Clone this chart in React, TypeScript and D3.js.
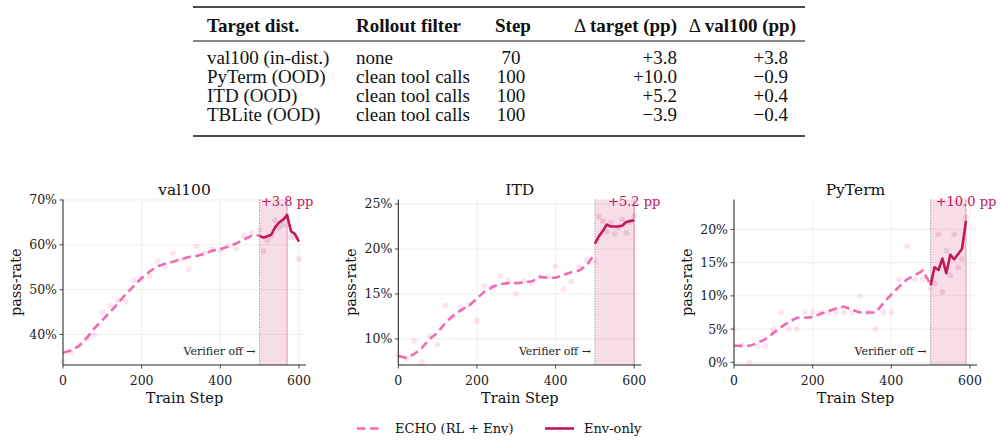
import React from "react";
import * as d3 from "d3";

// Summary table
const tableHeaders = ["Target dist.", "Rollout filter", "Step", "target (pp)", "val100 (pp)"];
const targetDists = ["val100 (in-dist.)", "PyTerm (OOD)", "ITD (OOD)", "TBLite (OOD)"];
const rolloutFilters = ["none", "clean tool calls", "clean tool calls", "clean tool calls"];
const bestSteps = ["70", "100", "100", "100"];
const deltaTarget = ["+3.8", "+10.0", "+5.2", "\u22123.9"];
const deltaVal100 = ["+3.8", "\u22120.9", "+0.4", "\u22120.4"];

// ECHO run (RL + Env), logged every 20 steps up to the verifier switch-off
const echoSteps = [0, 20, 40, 60, 80, 100, 120, 140, 160, 180, 200, 220, 240, 260, 280, 300, 320, 340, 360, 380, 400, 420, 440, 460, 480, 500];
// Env-only continuation after step 500
const envSteps = [500, 510, 520, 530, 540, 550, 560, 570, 580, 590, 600];
const envRawSteps = [510, 520, 530, 540, 550, 560, 570, 580, 590, 600];

// val100
const val100Echo = [35.9, 36.5, 37.4, 39.2, 41.4, 43.2, 45.0, 47.0, 49.0, 50.8, 52.6, 54.0, 55.2, 55.8, 56.2, 56.8, 57.3, 57.5, 58.0, 58.7, 59.0, 59.6, 60.3, 61.2, 62.0, 62.1];
const val100EchoRaw = [33.9, 36.1, 37.5, 39.0, 39.9, 44.9, 46.4, 47.6, 47.4, 52.1, 52.4, 53.0, 56.3, 55.1, 58.1, 56.6, 54.6, 59.7, 58.2, 59.0, 58.8, 59.9, 59.2, 62.1, 62.7, 63.4];
const val100Env = [62.0, 61.6, 61.9, 62.3, 64.0, 65.0, 65.6, 66.6, 63.0, 62.4, 60.7];
const val100EnvRaw = [58.6, 61.0, 62.0, 65.5, 63.8, 64.4, 66.4, 61.8, 61.6, 56.8];

// ITD
const itdEcho = [8.1, 7.9, 8.3, 9.0, 10.0, 10.7, 11.8, 12.6, 13.2, 13.7, 14.5, 15.3, 15.8, 16.1, 16.2, 16.2, 16.3, 16.4, 16.9, 16.8, 16.8, 17.1, 17.4, 17.6, 18.2, 19.5];
const itdEchoRaw = [8.2, 7.8, 9.8, 7.4, 10.3, 9.4, 13.7, 12.4, 13.5, 13.8, 12.0, 15.9, 15.7, 17.0, 16.5, 15.0, 16.4, 16.2, 16.9, 16.9, 18.1, 15.5, 16.4, 18.0, 18.8, 18.6];
const itdEnv = [20.6, 21.4, 22.0, 22.7, 22.5, 22.5, 22.5, 22.6, 23.0, 23.1, 23.2];
const itdEnvRaw = [23.6, 23.1, 21.9, 22.9, 21.7, 22.4, 23.3, 21.8, 23.0, 23.7];

// PyTerm
const pytermEcho = [2.5, 2.5, 2.5, 2.9, 3.5, 4.4, 5.3, 6.1, 6.7, 6.7, 6.8, 7.3, 7.7, 8.1, 8.4, 7.9, 7.5, 7.5, 7.5, 8.9, 10.2, 11.4, 12.5, 13.1, 13.8, 11.7];
const pytermEchoRaw = [5.0, 2.5, 0.0, 2.5, 2.5, 5.0, 7.5, 5.0, 5.0, 7.5, 7.5, 7.5, 7.5, 7.5, 7.5, 7.5, 10.0, 7.5, 5.0, 7.5, 7.5, 12.5, 17.5, 12.5, 12.5, 11.2];
const pytermEnv = [11.6, 14.3, 13.9, 15.6, 13.4, 16.2, 15.5, 16.3, 17.1, 21.3];
const pytermEnvRaw = [11.9, 19.3, 10.6, 16.8, 13.1, 19.3, 14.3, 15.6, 21.8];

const xTicks = [0, 200, 400, 600];

const ECHO_COLOR = "#f06cb2";
const ENV_COLOR = "#c2185b";
const SERIF = "'DejaVu Serif', serif";

const PLOT_TOP = 199.5;
const PLOT_BOTTOM = 365;
const PLOT_W = 243;
const VERIFIER_OFF = 500;

type PanelSpec = {
  title: string;
  left: number;
  yDomain: [number, number];
  yTicks: number[];
  echo: number[];
  echoRaw: number[];
  env: number[];
  envRaw: number[];
  best: number;
  gain: string;
};

const panels: PanelSpec[] = [
  { title: "val100", left: 63, yDomain: [33.2, 70.1], yTicks: [40, 50, 60, 70], echo: val100Echo, echoRaw: val100EchoRaw, env: val100Env, envRaw: val100EnvRaw, best: 570, gain: "+3.8 pp" },
  { title: "ITD", left: 398.3, yDomain: [7.1, 25.5], yTicks: [10, 15, 20, 25], echo: itdEcho, echoRaw: itdEchoRaw, env: itdEnv, envRaw: itdEnvRaw, best: 600, gain: "+5.2 pp" },
  { title: "PyTerm", left: 734, yDomain: [-0.4, 24.5], yTicks: [0, 5, 10, 15, 20], echo: pytermEcho, echoRaw: pytermEchoRaw, env: pytermEnv, envRaw: pytermEnvRaw, best: 590, gain: "+10.0 pp" },
];

const Panel: React.FC<{ p: PanelSpec }> = ({ p }) => {
  const x = d3.scaleLinear().domain([0, 618]).range([p.left, p.left + PLOT_W]);
  const y = d3.scaleLinear().domain(p.yDomain).range([PLOT_BOTTOM, PLOT_TOP]);

  const echoPts: [number, number][] = echoSteps.map((s, i) => [s, p.echo[i]]);
  const envPts: [number, number][] = p.env.map((v, i) => [envSteps[i], v]);
  const line = d3.line<[number, number]>().x((d) => x(d[0])).y((d) => y(d[1]));

  const xRight = p.left + PLOT_W;

  return (
    <g>
      {/* grid */}
      {xTicks.map((t) => (
        <line key={"gx" + t} x1={x(t)} x2={x(t)} y1={PLOT_TOP} y2={PLOT_BOTTOM} stroke="#ebebeb" strokeWidth={0.8} />
      ))}
      {p.yTicks.map((t) => (
        <line key={"gy" + t} x1={p.left} x2={xRight} y1={y(t)} y2={y(t)} stroke="#ebebeb" strokeWidth={0.8} />
      ))}

      {/* env-only window */}
      <rect x={x(VERIFIER_OFF)} y={PLOT_TOP} width={x(p.best) - x(VERIFIER_OFF)} height={PLOT_BOTTOM - PLOT_TOP} fill={ENV_COLOR} fillOpacity={0.15} />
      <line x1={x(p.best)} x2={x(p.best)} y1={PLOT_TOP} y2={PLOT_BOTTOM} stroke={ENV_COLOR} strokeOpacity={0.35} strokeWidth={1.2} />
      <line x1={x(VERIFIER_OFF)} x2={x(VERIFIER_OFF)} y1={PLOT_TOP} y2={PLOT_BOTTOM} stroke="#777" strokeWidth={0.8} strokeDasharray="1,1.6" />

      {/* raw evals */}
      {p.echoRaw.map((v, i) => (
        <circle key={"er" + i} cx={x(echoSteps[i])} cy={y(v)} r={2.9} fill={ECHO_COLOR} fillOpacity={0.18} />
      ))}
      {p.envRaw.map((v, i) => (
        <circle key={"vr" + i} cx={x(envRawSteps[i])} cy={y(v)} r={2.9} fill={ENV_COLOR} fillOpacity={0.14} />
      ))}

      {/* smoothed curves */}
      <path d={line(echoPts) ?? ""} fill="none" stroke={ECHO_COLOR} strokeWidth={2.6} strokeDasharray="8.5,4.5" />
      <path d={line(envPts) ?? ""} fill="none" stroke={ENV_COLOR} strokeWidth={2.6} strokeLinejoin="round" />

      <text x={x(VERIFIER_OFF) - 4} y={355} textAnchor="end" fontSize={11} fontFamily={SERIF} fill="#222">
        Verifier off →
      </text>
      <text x={x(p.best)} y={206} textAnchor="middle" fontSize={13} fontFamily={SERIF} fill={ENV_COLOR}>
        {p.gain}
      </text>

      {/* axes */}
      <line x1={p.left} x2={p.left} y1={PLOT_TOP} y2={PLOT_BOTTOM} stroke="#222" strokeWidth={1} />
      <line x1={p.left} x2={xRight} y1={PLOT_BOTTOM} y2={PLOT_BOTTOM} stroke="#222" strokeWidth={1} />
      {xTicks.map((t) => (
        <g key={"xt" + t}>
          <line x1={x(t)} x2={x(t)} y1={PLOT_BOTTOM} y2={PLOT_BOTTOM + 3.5} stroke="#222" strokeWidth={0.8} />
          <text x={x(t)} y={385} textAnchor="middle" fontSize={12.5} fontFamily={SERIF} fill="#222">
            {t}
          </text>
        </g>
      ))}
      {p.yTicks.map((t) => (
        <g key={"yt" + t}>
          <line x1={p.left - 3.5} x2={p.left} y1={y(t)} y2={y(t)} stroke="#222" strokeWidth={0.8} />
          <text x={p.left - 6} y={y(t) + 4.4} textAnchor="end" fontSize={12.5} fontFamily={SERIF} fill="#222">
            {t}%
          </text>
        </g>
      ))}

      <text x={p.left + PLOT_W / 2} y={195} textAnchor="middle" fontSize={15.5} fontFamily={SERIF} fill="#111">
        {p.title}
      </text>
      <text x={p.left + PLOT_W / 2} y={403} textAnchor="middle" fontSize={14.5} fontFamily={SERIF} fill="#111">
        Train Step
      </text>
      <text transform={`translate(${p.left - 47},${(PLOT_TOP + PLOT_BOTTOM) / 2}) rotate(-90)`} textAnchor="middle" dominantBaseline="central" fontSize={14.5} fontFamily={SERIF} fill="#111">
        pass-rate
      </text>
    </g>
  );
};

const TABLE_FONT = "'Liberation Serif', serif";
const colLeft = [207, 356];
const stepCenter = 511;
const colRight = [677, 788];
const rowBaselines = [63.5, 83, 102, 121];

const Table: React.FC = () => (
  <g fontFamily={TABLE_FONT} fontSize={19} fill="#111">
    <line x1={193} x2={805} y1={7} y2={7} stroke="#111" strokeWidth={1.6} />
    <line x1={193} x2={805} y1={41} y2={41} stroke="#111" strokeWidth={1} />
    <line x1={193} x2={805} y1={136} y2={136} stroke="#111" strokeWidth={1.6} />

    <g fontWeight="bold">
      <text x={colLeft[0]} y={31.5}>{tableHeaders[0]}</text>
      <text x={colLeft[1]} y={31.5}>{tableHeaders[1]}</text>
      <text x={stepCenter + 2} y={31.5} textAnchor="middle">{tableHeaders[2]}</text>
      <text x={colRight[0]} y={31.5} textAnchor="end">
        <tspan fontWeight="normal">Δ </tspan>
        {tableHeaders[3]}
      </text>
      <text x={colRight[1] + 8} y={31.5} textAnchor="end">
        <tspan fontWeight="normal">Δ </tspan>
        {tableHeaders[4]}
      </text>
    </g>

    {targetDists.map((t, i) => (
      <g key={t}>
        <text x={colLeft[0]} y={rowBaselines[i]}>{t}</text>
        <text x={colLeft[1]} y={rowBaselines[i]}>{rolloutFilters[i]}</text>
        <text x={stepCenter} y={rowBaselines[i]} textAnchor="middle">{bestSteps[i]}</text>
        <text x={colRight[0]} y={rowBaselines[i]} textAnchor="end">{deltaTarget[i]}</text>
        <text x={colRight[1]} y={rowBaselines[i]} textAnchor="end">{deltaVal100[i]}</text>
      </g>
    ))}
  </g>
);

const Legend: React.FC = () => (
  <g fontFamily={SERIF} fontSize={13} fill="#111">
    <line x1={357} x2={381} y1={428.5} y2={428.5} stroke={ECHO_COLOR} strokeWidth={2.6} strokeDasharray="8.5,4.5" />
    <text x={395} y={433}>ECHO (RL + Env)</text>
    <line x1={545} x2={574} y1={428.5} y2={428.5} stroke={ENV_COLOR} strokeWidth={2.6} />
    <text x={584} y={433}>Env-only</text>
  </g>
);

export default function App() {
  return (
    <svg width={1002} height={443} style={{ position: "absolute", left: 0, top: 0, background: "#fff" }}>
      <rect width={1002} height={443} fill="#fff" />
      <Table />
      {panels.map((p) => (
        <Panel key={p.title} p={p} />
      ))}
      <Legend />
    </svg>
  );
}
